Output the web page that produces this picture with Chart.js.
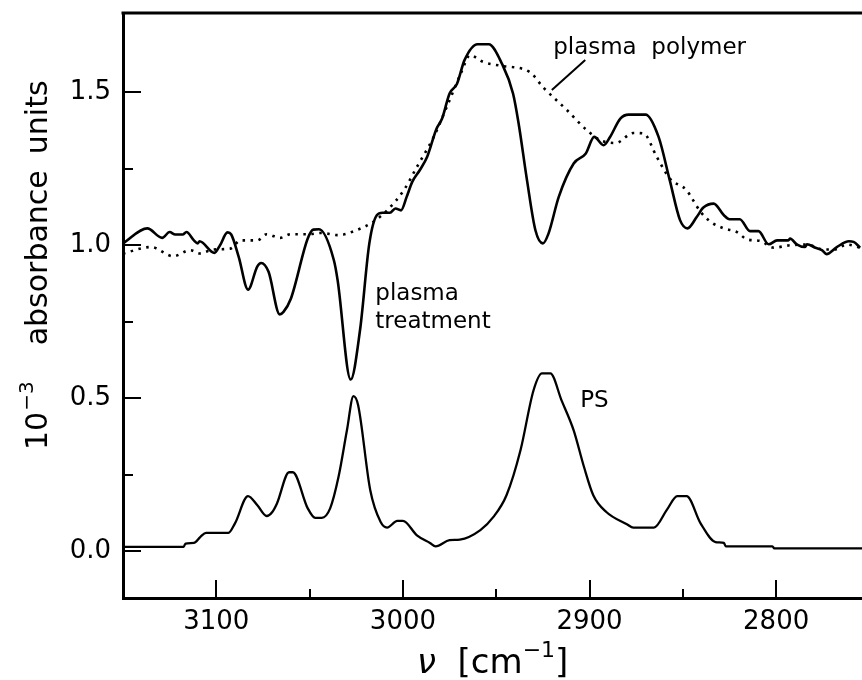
<!DOCTYPE html>
<html>
<head>
<meta charset="utf-8">
<script src="https://cdn.jsdelivr.net/npm/chart.js@4.4.1/dist/chart.umd.min.js"></script>
<style>
  html, body { margin: 0; padding: 0; background: #fff; overflow: hidden; }
  canvas { display: block; }
</style>
</head>
<body>
<canvas id="spectra" width="862" height="680"></canvas>
<script>
// --- spectra (wavenumber in cm^-1, absorbance in 10^-3 units) ---
const treatWn = [3150, 3137, 3129, 3125, 3122, 3118, 3116, 3112, 3110, 3109, 3101, 3098, 3094, 3092, 3088, 3083, 3078, 3076, 3072, 3066, 3064, 3060, 3051, 3048, 3045, 3037, 3035, 3028, 3023, 3018, 3014, 3011, 3007, 3004, 3001, 2998, 2995, 2991, 2987, 2982, 2979, 2975, 2971, 2967, 2960, 2954, 2947, 2941, 2938, 2933.5, 2929, 2925, 2922, 2916.5, 2908.5, 2902, 2897.5, 2892.5, 2889, 2883.5, 2879, 2870, 2863, 2857, 2851.5, 2847.5, 2842.5, 2839, 2833.5, 2828, 2825, 2819.5, 2814, 2809.5, 2804, 2799.5, 2793.5, 2792.5, 2789, 2784.5, 2783.5, 2779, 2775.5, 2773, 2767.5, 2761, 2758.5, 2755];
const treatAbs = [1.006, 1.055, 1.024, 1.043, 1.035, 1.035, 1.043, 1.016, 1.006, 1.013, 0.975, 1.000, 1.042, 1.035, 0.962, 0.855, 0.931, 0.942, 0.913, 0.774, 0.782, 0.826, 1.022, 1.051, 1.052, 0.951, 0.886, 0.561, 0.722, 1.006, 1.098, 1.106, 1.106, 1.120, 1.114, 1.158, 1.207, 1.245, 1.289, 1.381, 1.414, 1.496, 1.528, 1.605, 1.657, 1.657, 1.594, 1.496, 1.398, 1.212, 1.049, 1.006, 1.038, 1.158, 1.267, 1.300, 1.354, 1.327, 1.354, 1.414, 1.427, 1.427, 1.354, 1.212, 1.082, 1.055, 1.093, 1.123, 1.136, 1.098, 1.085, 1.085, 1.046, 1.046, 1.003, 1.016, 1.016, 1.022, 1.003, 0.994, 1.003, 0.992, 0.984, 0.971, 0.994, 1.013, 1.011, 0.992];

const polyWn = [3150, 3135, 3123, 3114, 3109, 3101.5, 3092.5, 3087, 3078, 3073, 3066, 3060, 3051, 3044, 3034.5, 3025, 3016, 3008.5, 2999.5, 2992.5, 2983.5, 2976.5, 2969, 2964, 2957, 2948, 2932, 2925, 2912, 2901.5, 2894, 2886, 2876.5, 2871, 2864, 2857, 2848, 2845, 2840.5, 2835, 2828, 2821, 2815.5, 2808.5, 2801.5, 2792.5, 2783.5, 2774.5, 2769, 2762, 2755];
const polyAbs = [0.973, 0.994, 0.964, 0.984, 0.973, 0.986, 0.989, 1.016, 1.016, 1.036, 1.024, 1.036, 1.036, 1.040, 1.033, 1.049, 1.076, 1.114, 1.180, 1.256, 1.354, 1.452, 1.561, 1.621, 1.599, 1.587, 1.566, 1.517, 1.441, 1.376, 1.343, 1.334, 1.367, 1.365, 1.289, 1.218, 1.180, 1.152, 1.109, 1.076, 1.055, 1.043, 1.019, 1.014, 0.992, 1.000, 1.002, 0.986, 0.986, 1.002, 0.992];

const psWn = [3150, 3117.5, 3116.5, 3112, 3108.5, 3105.5, 3093.5, 3090, 3083, 3078, 3073, 3070, 3067.5, 3061, 3059, 3051, 3047, 3043.5, 3039, 3034.5, 3030, 3026.5, 3024, 3017.5, 3012, 3008.5, 3003, 3000, 2992.5, 2985.5, 2982.5, 2975, 2969.5, 2958.5, 2951.5, 2944.5, 2937, 2930, 2925.5, 2921, 2915, 2908.5, 2903, 2898, 2891, 2880, 2876.5, 2865.5, 2858.5, 2853, 2848, 2840.5, 2832.5, 2828, 2827, 2802, 2801, 2754];
const psAbs = [0.014, 0.014, 0.025, 0.027, 0.047, 0.060, 0.060, 0.091, 0.180, 0.150, 0.115, 0.128, 0.156, 0.258, 0.258, 0.140, 0.109, 0.109, 0.140, 0.243, 0.395, 0.507, 0.477, 0.199, 0.096, 0.077, 0.099, 0.099, 0.052, 0.027, 0.016, 0.036, 0.038, 0.069, 0.112, 0.183, 0.330, 0.526, 0.581, 0.581, 0.493, 0.395, 0.276, 0.183, 0.128, 0.088, 0.077, 0.077, 0.136, 0.180, 0.180, 0.091, 0.030, 0.027, 0.016, 0.016, 0.009, 0.009];

// axis ticks
const xTicks = [3100, 3050, 3000, 2950, 2900, 2850, 2800];
const xLabelStep = 100;
const yTicks = [0, 0.25, 0.5, 0.75, 1.0, 1.25, 1.5];
const yLabelStep = 0.5;

const FONT = 'DejaVu Sans';
const INK = '#000';

const toPoints = (xs, ys) => xs.map((x, i) => ({ x: x, y: ys[i] }));
const isMajor = (v, step) => Math.abs(v / step - Math.round(v / step)) < 1e-6;
// labels stick out past the plot edges; keep the plot box where it is
const noEdgePadding = s => { s.paddingTop = 0; s.paddingBottom = 0; s.paddingLeft = 0; s.paddingRight = 0; };

// frame, inward tick marks, axis titles and curve labels
const decorations = {
    id: 'decorations',
    afterDraw(chart) {
        const ctx = chart.ctx;
        const area = chart.chartArea;
        const xs = chart.scales.x;
        const ys = chart.scales.y;
        ctx.save();
        ctx.strokeStyle = INK;
        ctx.fillStyle = INK;

        // top edge of the frame
        ctx.lineWidth = 3;
        ctx.beginPath();
        ctx.moveTo(area.left - 1.5, area.top);
        ctx.lineTo(area.right, area.top);
        ctx.stroke();

        // tick marks pointing into the plot
        ctx.lineWidth = 2;
        ctx.beginPath();
        xTicks.forEach(v => {
            const px = Math.round(xs.getPixelForValue(v));
            const len = isMajor(v, xLabelStep) ? 18 : 9;
            ctx.moveTo(px, area.bottom);
            ctx.lineTo(px, area.bottom - len);
        });
        yTicks.forEach(v => {
            const py = Math.round(ys.getPixelForValue(v));
            const len = isMajor(v, yLabelStep) ? 18 : 10;
            ctx.moveTo(area.left, py);
            ctx.lineTo(area.left + len, py);
        });
        ctx.stroke();

        // x title: nu [cm^-1]
        ctx.textBaseline = 'alphabetic';
        ctx.textAlign = 'left';
        const bigX = '34px "' + FONT + '"';
        const supX = '22px "' + FONT + '"';
        ctx.font = 'italic ' + bigX;
        const nuW = ctx.measureText('ν').width;
        ctx.font = bigX;
        const midW = ctx.measureText('  [cm').width;
        const endW = ctx.measureText(']').width;
        ctx.font = supX;
        const supW = ctx.measureText('−1').width;
        let tx = 417;
        const tb = 673;
        ctx.font = 'italic ' + bigX;
        ctx.fillText('ν', tx, tb); tx += nuW;
        ctx.font = bigX;
        ctx.fillText('  [cm', tx, tb); tx += midW;
        ctx.font = supX;
        ctx.fillText('−1', tx, tb - 16); tx += supW;
        ctx.font = bigX;
        ctx.fillText(']', tx, tb);

        // y title: 10^-3 absorbance units, read bottom to top
        const bigY = '30px "' + FONT + '"';
        const supY = '20px "' + FONT + '"';
        ctx.translate(47, 0);
        ctx.rotate(-Math.PI / 2);
        let u = -450;
        ctx.font = bigY;
        ctx.fillText('10', u, 0); u += ctx.measureText('10').width + 1;
        ctx.font = supY;
        ctx.fillText('−3', u, -14); u += ctx.measureText('−3').width + 36;
        ctx.font = bigY;
        ctx.fillText('absorbance', u, 0); u += ctx.measureText('absorbance').width + 16;
        ctx.fillText('units', u, 0);
        ctx.setTransform(1, 0, 0, 1, 0, 0);

        // curve labels, anchored in data units
        ctx.font = '23px "' + FONT + '"';
        const at = (wn, a) => [xs.getPixelForValue(wn), ys.getPixelForValue(a)];
        let p = at(2919.5, 1.624);
        ctx.fillText('plasma  polymer', p[0], p[1]);
        p = at(3014.8, 0.820);
        ctx.fillText('plasma', p[0], p[1]);
        p = at(3014.8, 0.728);
        ctx.fillText('treatment', p[0], p[1]);
        p = at(2905, 0.470);
        ctx.fillText('PS', p[0], p[1]);

        // leader from the label to the dotted curve
        const a0 = at(2902.3, 1.605);
        const a1 = at(2920.2, 1.507);
        ctx.lineWidth = 2;
        ctx.beginPath();
        ctx.moveTo(a0[0], a0[1]);
        ctx.lineTo(a1[0], a1[1]);
        ctx.stroke();
        ctx.restore();
    }
};

const lineStyle = {
    borderColor: INK,
    pointRadius: 0,
    fill: false,
    cubicInterpolationMode: 'monotone'
};

new Chart(document.getElementById('spectra'), {
    type: 'line',
    data: {
        datasets: [
            Object.assign({ label: 'plasma treatment', data: toPoints(treatWn, treatAbs), borderWidth: 2.6 }, lineStyle),
            Object.assign({ label: 'plasma polymer', data: toPoints(polyWn, polyAbs), borderWidth: 2.6, borderDash: [2.5, 5.5] }, lineStyle),
            Object.assign({ label: 'PS', data: toPoints(psWn, psAbs), borderWidth: 2.3 }, lineStyle)
        ]
    },
    options: {
        responsive: false,
        animation: false,
        events: [],
        layout: { padding: { top: 13, right: 0, bottom: 0, left: 0 } },
        plugins: { legend: { display: false }, tooltip: { enabled: false } },
        scales: {
            x: {
                type: 'linear',
                reverse: true,
                min: 2754,
                max: 3150,
                afterBuildTicks: s => { s.ticks = xTicks.map(v => ({ value: v })); },
                afterFit: s => { s.height = 82; noEdgePadding(s); },
                grid: { display: false, drawTicks: false },
                border: { display: true, width: 3, color: INK },
                ticks: {
                    autoSkip: false,
                    maxRotation: 0,
                    padding: 9,
                    color: INK,
                    font: { family: FONT, size: 26 },
                    callback: v => isMajor(v, xLabelStep) ? String(v) : ''
                }
            },
            y: {
                min: -0.153,
                max: 1.759,
                afterBuildTicks: s => { s.ticks = yTicks.map(v => ({ value: v })); },
                afterFit: s => { s.width = 123; noEdgePadding(s); },
                grid: { display: false, drawTicks: false },
                border: { display: true, width: 3, color: INK },
                ticks: {
                    padding: 12,
                    color: INK,
                    font: { family: FONT, size: 26 },
                    callback: v => isMajor(v, yLabelStep) ? v.toFixed(1) : ''
                }
            }
        }
    },
    plugins: [decorations]
});
</script>
</body>
</html>
